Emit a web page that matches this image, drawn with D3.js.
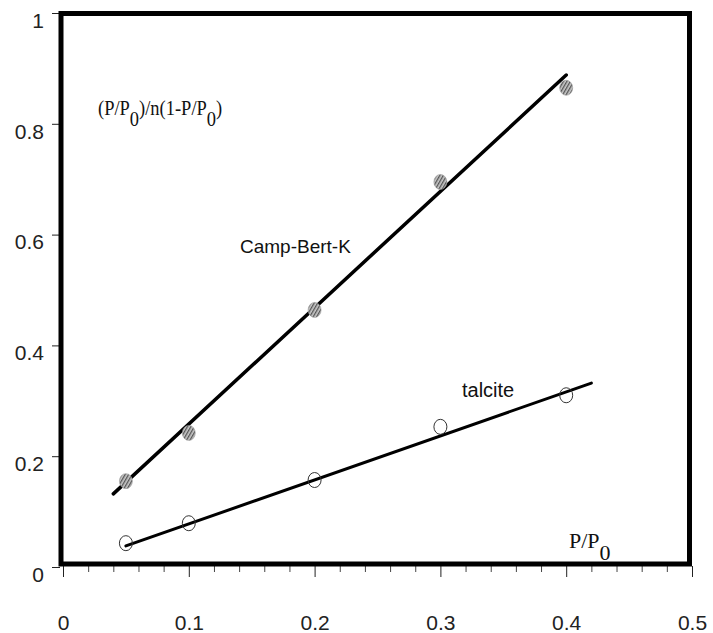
<!DOCTYPE html>
<html><head><meta charset="utf-8">
<script src="https://cdn.jsdelivr.net/npm/d3@7"></script>
<style>body{margin:0;background:#fff}svg{display:block}</style>
</head><body>
<svg id="c" width="713" height="633"></svg>
<script>
const xTicks = [0, 0.1, 0.2, 0.3, 0.4, 0.5];
const yTicks = [0, 0.2, 0.4, 0.6, 0.8, 1];
const campX = [0.05, 0.1, 0.2, 0.3, 0.4];
const campY = [0.155, 0.242, 0.464, 0.695, 0.865];
const campFit = [[0.04, 0.132], [0.4, 0.888]];
const talcX = [0.05, 0.1, 0.2, 0.3, 0.4];
const talcY = [0.043, 0.079, 0.157, 0.253, 0.31];
const talcFit = [[0.05, 0.038], [0.42, 0.332]];

const svg = d3.select("#c");
const x = d3.scaleLinear().domain([0, 0.5]).range([63, 692]);
const y = d3.scaleLinear().domain([0, 1]).range([567, 13]);
const sans = "Arial, 'Liberation Sans', sans-serif";
const serif = "'Liberation Serif','Times New Roman',serif";

const defs = svg.append("defs");
const pat = defs.append("pattern").attr("id","hatch").attr("patternUnits","userSpaceOnUse")
  .attr("width",3).attr("height",3).attr("patternTransform","rotate(30)");
pat.append("rect").attr("width",3).attr("height",3).attr("fill","#c8c8c8");
pat.append("rect").attr("width",1.3).attr("height",3).attr("fill","#555");

// x axis
const xa = svg.append("g").attr("transform",`translate(0,566)`)
  .call(d3.axisBottom(x).tickValues(xTicks).tickSize(11).tickFormat(d3.format("")));
xa.select(".domain").remove();
xa.selectAll("line").attr("stroke","#222").attr("stroke-width",1);
xa.selectAll("text").attr("dy",0).attr("y",64).attr("font-family",sans)
  .attr("font-size",21).attr("fill","#222");
const minor = d3.range(0,26).map(i=>i*0.02).filter(v=>Math.abs(v*10-Math.round(v*10))>1e-6);
const xm = svg.append("g").attr("transform",`translate(0,566)`)
  .call(d3.axisBottom(x).tickValues(minor).tickSize(6).tickFormat(""));
xm.select(".domain").remove();
xm.selectAll("line").attr("stroke","#444").attr("stroke-width",1);

// y axis
const ya = svg.append("g").attr("transform",`translate(60,0)`)
  .call(d3.axisLeft(y).tickValues(yTicks).tickSize(8).tickFormat(d3.format("")));
ya.select(".domain").remove();
ya.selectAll("line").attr("stroke","#222").attr("stroke-width",1);
ya.selectAll("text").attr("x",-16).attr("dy","0.35em").attr("y",7).attr("font-family",sans)
  .attr("font-size",21).attr("fill","#222");

// frame
svg.append("rect").attr("x",x(0)-2).attr("y",y(1)+0.5).attr("width",x(0.5)-x(0)-0.5).attr("height",y(0)-y(1)-3.5)
  .attr("fill","none").attr("stroke","#000").attr("stroke-width",5);

const line = d3.line().x(d=>x(d[0])).y(d=>y(d[1]));
svg.append("path").attr("d",line(campFit)).attr("stroke","#000").attr("stroke-width",3.5).attr("fill","none").attr("stroke-linecap","round");
svg.append("path").attr("d",line(talcFit)).attr("stroke","#000").attr("stroke-width",3).attr("fill","none").attr("stroke-linecap","round");

svg.append("g").selectAll("ellipse").data(campX.map((v,i)=>[v,campY[i]])).join("ellipse")
  .attr("cx",d=>x(d[0])).attr("cy",d=>y(d[1])).attr("rx",6.5).attr("ry",7.5)
  .attr("fill","url(#hatch)").attr("stroke","#999").attr("stroke-width",0.6);
svg.append("g").selectAll("ellipse").data(talcX.map((v,i)=>[v,talcY[i]])).join("ellipse")
  .attr("cx",d=>x(d[0])).attr("cy",d=>y(d[1])).attr("rx",6.5).attr("ry",7.5)
  .attr("fill","none").attr("stroke","#333").attr("stroke-width",1);

// labels
const ylab = svg.append("text").attr("transform","translate(98,115) scale(0.88,1)")
  .attr("font-family",serif).attr("font-size",21).attr("fill","#111");
ylab.append("tspan").text("(P/P");
ylab.append("tspan").attr("dy",11).text("0");
ylab.append("tspan").attr("dy",-11).text(")/n(1-P/P");
ylab.append("tspan").attr("dy",11).text("0");
ylab.append("tspan").attr("dy",-11).text(")");

const xlab = svg.append("text").attr("x",569).attr("y",548).attr("font-family",serif).attr("font-size",22).attr("fill","#111");
xlab.append("tspan").text("P/P");
xlab.append("tspan").attr("dy",12).text("0");

svg.append("text").attr("x",240).attr("y",253).attr("font-family",sans)
  .attr("font-size",19).attr("fill","#111").text("Camp-Bert-K");
svg.append("text").attr("x",462).attr("y",397).attr("font-family",sans)
  .attr("font-size",20).attr("fill","#111").text("talcite");
</script>
</body></html>
